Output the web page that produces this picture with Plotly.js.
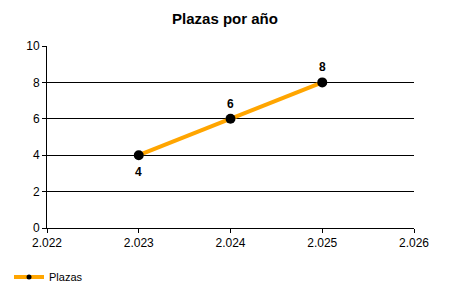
<!DOCTYPE html>
<html><head><meta charset="utf-8">
<script src="https://cdn.plot.ly/plotly-3.0.1.min.js"></script>
<style>html,body{margin:0;padding:0;background:#fff}#c{width:450px;height:300px}</style>
</head><body><div id="c"></div>
<script>
const years = [2023, 2024, 2025];
const plazas = [4, 6, 8];
const labelBelow = [true, false, false];
const seriesName = 'Plazas';
const chartTitle = 'Plazas por año';

const trace = {
  x: years, y: plazas, name: seriesName, type: 'scatter', mode: 'lines+markers',
  line: {color: '#FFA500', width: 4},
  marker: {color: '#000', size: 10},
  showlegend: false, cliponaxis: false
};
const legendTrace = {
  x: [null], y: [null], name: seriesName, type: 'scatter', mode: 'lines+markers',
  line: {color: '#FFA500', width: 4},
  marker: {color: '#000', size: 5}, showlegend: true
};
const annotations = years.map((yr, i) => ({
  x: yr, y: plazas[i], xref: 'x', yref: 'y', text: '<b>' + plazas[i] + '</b>', showarrow: false,
  yshift: labelBelow[i] ? -17 : 15,
  font: {family: 'Liberation Sans, Arial, sans-serif', size: 12, color: '#000'}
}));
const layout = {
  width: 450, height: 300,
  margin: {l: 47, r: 36, t: 46, b: 72},
  paper_bgcolor: '#fff', plot_bgcolor: '#fff',
  separators: ',.',
  font: {family: 'Liberation Sans, Arial, sans-serif', size: 12, color: '#000'},
  title: {text: '<b>' + chartTitle + '</b>', font: {size: 15, color: '#000'}, x: 0.5, xanchor: 'center', y: 0.937, yanchor: 'middle'},
  xaxis: {range: [2022, 2026], dtick: 1, tickformat: ',d', showgrid: false, zeroline: false,
    showline: true, linecolor: '#000', linewidth: 1, ticks: 'outside', ticklen: 4, tickcolor: '#000', fixedrange: true},
  yaxis: {range: [0, 10], dtick: 2, showgrid: true, gridcolor: '#000', gridwidth: 1, zeroline: false,
    showline: true, linecolor: '#000', linewidth: 1, ticks: 'outside', ticklen: 4, tickcolor: '#000', fixedrange: true},
  annotations: annotations,
  showlegend: true,
  legend: {orientation: 'h', xref: 'container', yref: 'container', x: 0.02, y: 0.077, xanchor: 'left', yanchor: 'middle',
    font: {size: 11, color: '#000'}, itemwidth: 30}
};
Plotly.newPlot('c', [trace, legendTrace], layout, {staticPlot: true});
</script></body></html>
